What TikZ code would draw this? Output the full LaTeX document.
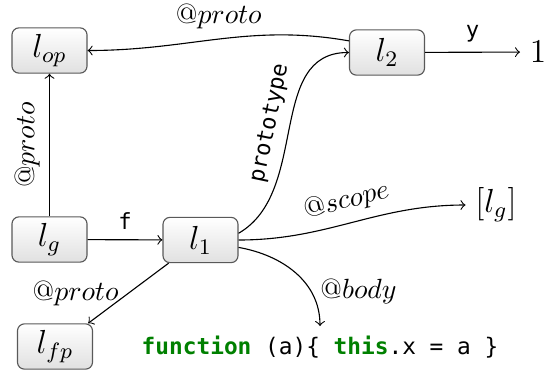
\documentclass[tikz,border=0pt]{standalone}
\usepackage{fontspec}
\setmonofont{DejaVu Sans Mono}
\usetikzlibrary{positioning}
\definecolor{kwgreen}{RGB}{0,128,0}
\newcommand{\kw}[1]{\textbf{\color{kwgreen}#1}}

\begin{document}
\begin{tikzpicture}[x=0.36pt,y=0.36pt,
  loc/.style={draw=black!65,rounded corners=2.5pt,top color=white,bottom color=black!12,
    minimum width=27pt,minimum height=16.3pt,inner sep=0pt,font=\large},
  lbl/.style={font=\ttfamily\footnotesize}]
\useasboundingbox (0,0) rectangle (551,-374);
% locations
\node[loc] (lop) at (49.5,-50.5) {$l_{op}$};
\node[loc] (l2) at (387,-52.5) {$l_2$};
\node[font=\large] (one) at (538,-52) {$1$};
\node[loc] (lg) at (49.5,-239.5) {$l_g$};
\node[loc] (l1) at (200.5,-240) {$l_1$};
\node[loc] (lfp) at (55,-346.5) {$l_{fp}$};
\node[font=\large] (scope) at (496,-205) {$[l_g]$};
\node[font=\ttfamily\fontsize{8.2}{10}\selectfont] (code) at (320,-347)
  {\kw{function} (a)\{ \kw{this}.x = a \}};
% edges
\draw[->] (lg) -- node[above,lbl] {f} (l1);
\draw[->] (lg) -- node[above,sloped] {$@proto$} (lop);
\draw[->] (l2.163) to[out=170,in=0] node[above] {$@proto$} (lop);
\draw[->] (l2) -- node[above,lbl] {y} (one);
\draw[->] (l1.10) to[out=30,in=180] node[above,sloped,lbl] {prototype} (l2.west);
\draw[->] (l1.east) to[out=0,in=180] node[above,sloped] {$@scope$} (scope.west);
\draw[->] (l1.-11) to[out=-10,in=90] node[pos=0.7,right] {$@body$} (code.north);
\draw[->] (l1.216) -- node[left] {$@proto$} (lfp.35);
\end{tikzpicture}
\end{document}
